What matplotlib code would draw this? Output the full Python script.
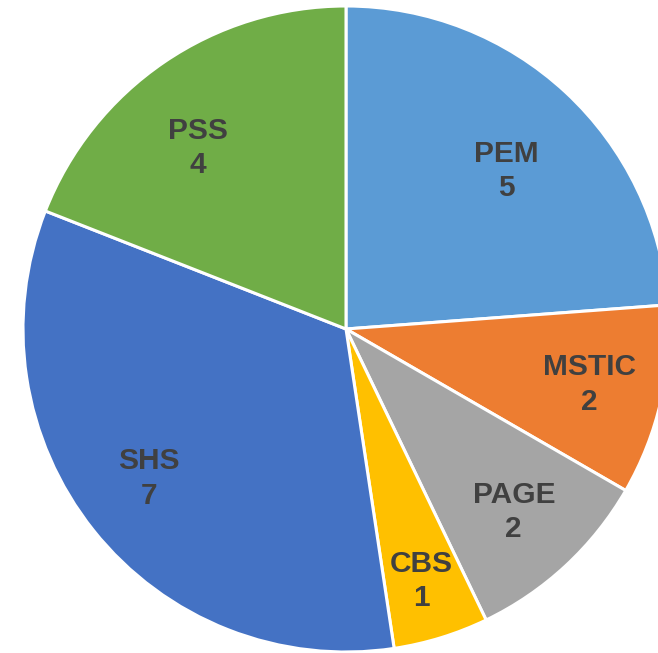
import numpy as np
import matplotlib.pyplot as plt

categories = ["PEM", "MSTIC", "PAGE", "CBS", "SHS", "PSS"]
values = [5, 2, 2, 1, 7, 4]
colors = ["#5B9BD5", "#ED7D31", "#A5A5A5", "#FFC000", "#4472C4", "#70AD47"]

# label placement: radial distance (fraction of radius) and angular nudge (deg)
label_radius = [0.697, 0.772, 0.768, 0.814, 0.766, 0.724]
label_nudge = [-2.7, 0.0, -0.3, -0.5, -1.4, 5.1]

W, H = 658, 653
fig = plt.figure(figsize=(W / 100, H / 100), dpi=100)
cx, cy, r = 346, H - 329, 323
ax = fig.add_axes([(cx - r) / W, (cy - r) / H, 2 * r / W, 2 * r / H])

wedges, _ = ax.pie(values, colors=colors, startangle=90, counterclock=False,
                   radius=1.0, wedgeprops=dict(edgecolor="white", linewidth=2.2))
ax.set_xlim(-1, 1)
ax.set_ylim(-1, 1)
ax.axis("off")

total = sum(values)
start = 90.0
for name, v, rf, nd in zip(categories, values, label_radius, label_nudge):
    sweep = v / total * 360
    mid = np.deg2rad(start - sweep / 2 + nd)
    start -= sweep
    ax.text(rf * np.cos(mid), rf * np.sin(mid), f"{name}\n{v}",
            ha="center", va="center", fontsize=21.5, fontweight="bold",
            color="#404040", family="Liberation Sans", linespacing=1.28)

fig.savefig("out.png", dpi=100)
